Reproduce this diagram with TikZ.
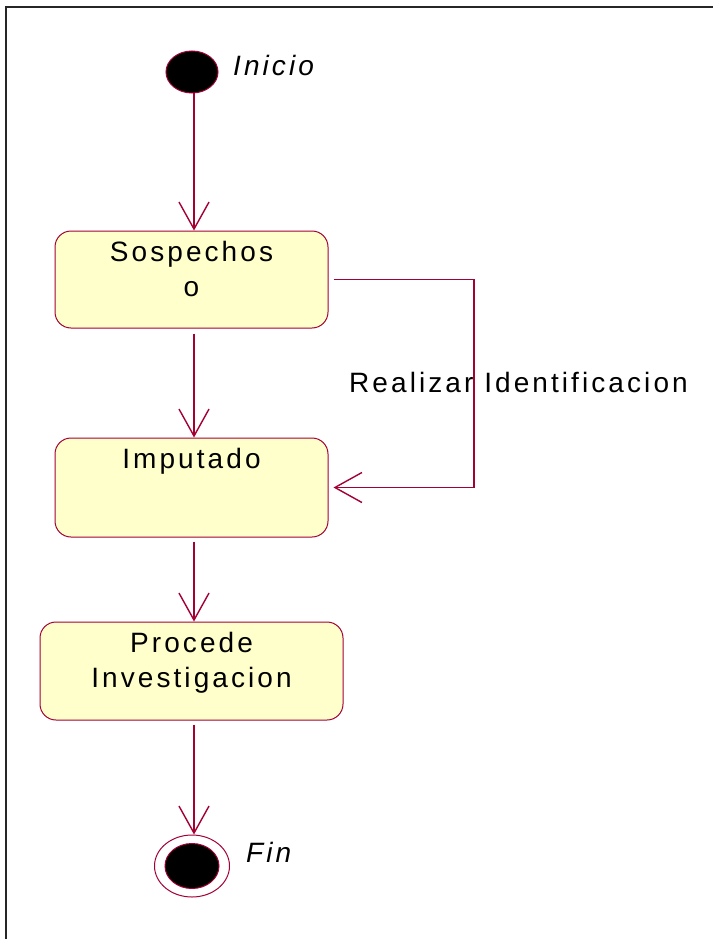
\documentclass[tikz,border=0pt]{standalone}
\usepackage{fontspec}
\newfontfamily\umlfont[LetterSpace=11]{Liberation Sans}
\usepackage{tikz}
\usetikzlibrary{arrows.meta,shapes.geometric}

\definecolor{umlred}{RGB}{163,0,52}
\definecolor{umlfill}{RGB}{255,255,204}

\tikzset{
  umltext/.style={font=\umlfont\fontsize{28}{35}\selectfont},
  statebox/.style={umltext,draw=umlred,fill=umlfill,line width=1pt,rounded corners=16pt,
    minimum width=273pt,inner sep=0pt,align=center,anchor=base},
  initstate/.style={ellipse,draw=umlred,fill=black,line width=1pt,minimum width=52pt,minimum height=42pt,inner sep=0pt},
  finalring/.style={ellipse,draw=umlred,fill=white,line width=1pt,minimum width=75pt,minimum height=62pt,inner sep=0pt},
  finalcore/.style={ellipse,draw=umlred,fill=black,line width=1pt,minimum width=54pt,minimum height=45pt,inner sep=0pt},
  flow/.style={draw=umlred,line width=1.4pt,-{Straight Barb[length=27pt,width=30pt,line width=1.4pt]}},
  frame/.style={draw=black!85,line width=2pt}
}

\begin{document}
\begin{tikzpicture}[x=1pt,y=-1pt]
  \useasboundingbox (0,0) rectangle (713,939);
  \draw[frame] (6,939) -- (6,7) -- (713,7);

  \draw (192,72) node[initstate] (start) {};
  \draw (233,76) node[umltext,anchor=base west,inner sep=0pt] (inicio) {\itshape Inicio};

  \draw (191.5,296) node[statebox,text height=65pt,text depth=32pt] (sosp) {Sospechos\\o};
  \draw (191.5,468) node[statebox,text height=30pt,text depth=69pt] (imp) {Imputado};
  \draw (191.5,687) node[statebox,minimum width=303pt,text height=65pt,text depth=33pt] (proc) {Procede\\Investigacion};

  \draw (192,866) node[finalring] (fin) {};
  \draw (192,866) node[finalcore] (fincore) {};
  \draw (246,862) node[umltext,anchor=base west,inner sep=0pt] (finlabel) {\itshape Fin};

  \coordinate (axis) at (194,0);
  \coordinate (loopx) at (474,0);
  \draw (349,392) node[umltext,anchor=base west,inner sep=0pt] (looplabel) {Realizar Identificacion};

  \draw[flow] (start.south -| axis) -- (sosp.north -| axis);
  \draw[flow] ([yshift=-5pt]sosp.south -| axis) -- (imp.north -| axis);
  \draw[flow] ([yshift=-4pt]imp.south -| axis) -- (proc.north -| axis);
  \draw[flow] ([yshift=-4pt]proc.south -| axis) -- (fin.north -| axis);
  \draw[flow] ([xshift=5pt]sosp.east) -- (sosp.east -| loopx) -- (imp.east -| loopx) -- ([xshift=5pt]imp.east);

\end{tikzpicture}
\end{document}
